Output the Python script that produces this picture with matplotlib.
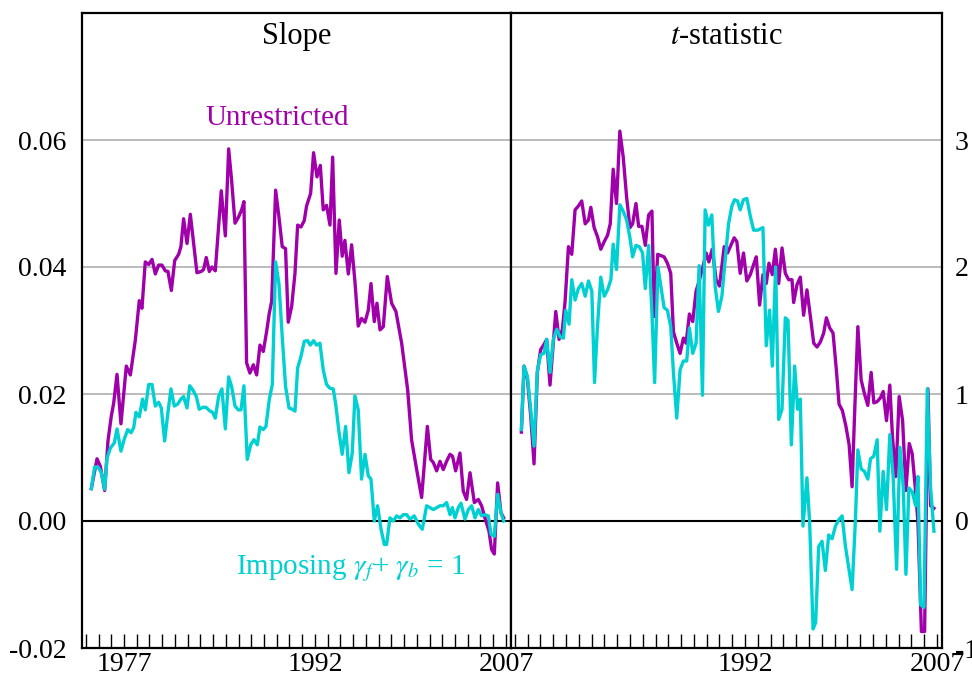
import matplotlib
matplotlib.use('Agg')
import matplotlib.pyplot as plt
from matplotlib.ticker import FixedLocator, MultipleLocator

plt.rcParams['font.family'] = ['Liberation Serif', 'DejaVu Serif']
plt.rcParams['mathtext.fontset'] = 'stix'

# Slope, unrestricted
slope_u_year = [1974.43, 1974.88, 1975.14, 1975.48, 1975.74, 1976.00, 1976.19, 1976.45, 1976.76, 1977.18,
                1977.50, 1977.89, 1978.20, 1978.41, 1978.67, 1978.94, 1979.20, 1979.46, 1979.72, 1979.98,
                1980.24, 1980.45, 1980.72, 1980.98, 1981.29, 1981.47, 1981.68, 1981.95, 1982.21, 1982.47,
                1982.73, 1983.07, 1983.25, 1983.46, 1983.70, 1983.91, 1984.17, 1984.64, 1984.96, 1985.22,
                1985.45, 1985.72, 1985.98, 1986.24, 1986.42, 1986.63, 1986.89, 1987.16, 1987.42, 1987.68,
                1987.94, 1988.20, 1988.41, 1988.60, 1988.91, 1989.17, 1989.43, 1989.69, 1989.90, 1990.17,
                1990.43, 1990.64, 1990.90, 1991.16, 1991.34, 1991.66, 1991.89, 1992.16, 1992.42, 1992.65,
                1992.91, 1993.18, 1993.39, 1993.65, 1993.91, 1994.14, 1994.35, 1994.62, 1994.88, 1995.14,
                1995.40, 1995.66, 1995.93, 1996.19, 1996.40, 1996.66, 1996.87, 1997.11, 1997.37, 1997.68,
                1998.02, 1998.36, 1998.81, 1999.28, 1999.59, 1999.99, 2000.38, 2000.83, 2001.09, 2001.30,
                2001.56, 2001.82, 2002.08, 2002.34, 2002.61, 2002.81, 2003.05, 2003.39, 2003.65, 2003.91,
                2004.18, 2004.52, 2004.83, 2005.09, 2005.35, 2005.67, 2005.88, 2006.09, 2006.35, 2006.61,
                2006.82]
slope_u = [0.0051, 0.0098, 0.0086, 0.0048, 0.0126, 0.0165, 0.0186, 0.0231, 0.0153, 0.0244,
           0.0230, 0.0285, 0.0347, 0.0335, 0.0408, 0.0404, 0.0412, 0.0389, 0.0403, 0.0403,
           0.0394, 0.0393, 0.0363, 0.0410, 0.0420, 0.0432, 0.0476, 0.0437, 0.0483, 0.0437,
           0.0391, 0.0393, 0.0396, 0.0415, 0.0393, 0.0400, 0.0394, 0.0520, 0.0449, 0.0586,
           0.0537, 0.0469, 0.0478, 0.0490, 0.0503, 0.0249, 0.0233, 0.0246, 0.0230, 0.0277,
           0.0267, 0.0298, 0.0327, 0.0346, 0.0521, 0.0479, 0.0432, 0.0429, 0.0313, 0.0338,
           0.0390, 0.0466, 0.0463, 0.0473, 0.0496, 0.0516, 0.0580, 0.0542, 0.0560, 0.0490,
           0.0497, 0.0466, 0.0573, 0.0390, 0.0474, 0.0417, 0.0442, 0.0389, 0.0435, 0.0377,
           0.0307, 0.0319, 0.0313, 0.0332, 0.0374, 0.0314, 0.0343, 0.0301, 0.0306, 0.0385,
           0.0343, 0.0330, 0.0280, 0.0207, 0.0128, 0.0081, 0.0037, 0.0149, 0.0097, 0.0092,
           0.0079, 0.0094, 0.0081, 0.0094, 0.0105, 0.0102, 0.0079, 0.0107, 0.0047, 0.0034,
           0.0076, 0.0029, 0.0034, 0.0024, 0.0005, -0.0016, -0.0045, -0.0052, 0.0060, 0.0013,
           0.0005]

# Slope, imposing gamma_f + gamma_b = 1
slope_r_year = [1974.43, 1974.69, 1974.96, 1975.22, 1975.48, 1975.66, 1975.93, 1976.24, 1976.45, 1976.76,
                1977.02, 1977.29, 1977.55, 1977.76, 1977.94, 1978.20, 1978.46, 1978.67, 1978.94, 1979.20,
                1979.46, 1979.72, 1979.93, 1980.19, 1980.45, 1980.69, 1980.95, 1981.21, 1981.47, 1981.68,
                1981.95, 1982.16, 1982.42, 1982.68, 1982.91, 1983.18, 1983.44, 1983.70, 1983.96, 1984.17,
                1984.43, 1984.69, 1984.96, 1985.22, 1985.45, 1985.72, 1985.98, 1986.19, 1986.42, 1986.68,
                1986.95, 1987.21, 1987.47, 1987.68, 1987.94, 1988.15, 1988.41, 1988.65, 1988.91, 1989.17,
                1989.43, 1989.69, 1989.96, 1990.22, 1990.43, 1990.64, 1990.90, 1991.16, 1991.42, 1991.63,
                1991.89, 1992.13, 1992.39, 1992.65, 1992.91, 1993.18, 1993.44, 1993.65, 1993.88, 1994.14,
                1994.41, 1994.67, 1994.93, 1995.14, 1995.40, 1995.66, 1995.93, 1996.19, 1996.40, 1996.66,
                1996.92, 1997.19, 1997.45, 1997.63, 1997.89, 1998.16, 1998.42, 1998.68, 1998.94, 1999.20,
                1999.46, 1999.80, 2000.12, 2000.43, 2000.77, 2001.03, 2001.30, 2001.56, 2001.82, 2002.08,
                2002.34, 2002.61, 2002.79, 2003.00, 2003.26, 2003.47, 2003.78, 2004.05, 2004.31, 2004.57,
                2004.83, 2005.09, 2005.35, 2005.62, 2005.83, 2006.09, 2006.35, 2006.61, 2006.82]
slope_r = [0.0051, 0.0085, 0.0085, 0.0076, 0.0050, 0.0099, 0.0115, 0.0123, 0.0145, 0.0110,
           0.0129, 0.0144, 0.0139, 0.0147, 0.0171, 0.0164, 0.0192, 0.0175, 0.0215, 0.0215,
           0.0181, 0.0187, 0.0178, 0.0126, 0.0171, 0.0208, 0.0181, 0.0184, 0.0192, 0.0196,
           0.0178, 0.0213, 0.0206, 0.0196, 0.0176, 0.0179, 0.0179, 0.0174, 0.0171, 0.0162,
           0.0196, 0.0208, 0.0145, 0.0227, 0.0212, 0.0181, 0.0175, 0.0175, 0.0213, 0.0097,
           0.0120, 0.0128, 0.0120, 0.0148, 0.0144, 0.0149, 0.0191, 0.0215, 0.0408, 0.0374,
           0.0290, 0.0212, 0.0178, 0.0176, 0.0173, 0.0241, 0.0259, 0.0283, 0.0284, 0.0277,
           0.0284, 0.0277, 0.0280, 0.0238, 0.0215, 0.0209, 0.0208, 0.0181, 0.0141, 0.0105,
           0.0149, 0.0076, 0.0107, 0.0197, 0.0175, 0.0066, 0.0105, 0.0071, 0.0066, 0.0000,
           0.0024, -0.0013, -0.0037, -0.0037, 0.0005, 0.0000, 0.0008, 0.0005, 0.0010, 0.0010,
           0.0003, 0.0008, -0.0005, -0.0013, 0.0024, 0.0021, 0.0018, 0.0021, 0.0024, 0.0024,
           0.0029, 0.0010, 0.0021, 0.0005, 0.0021, 0.0028, 0.0003, 0.0018, 0.0024, 0.0005,
           0.0018, 0.0008, 0.0010, 0.0008, -0.0021, -0.0024, 0.0042, 0.0013, 0.0000]

# t-statistic, unrestricted
tstat_u_year = [1974.51, 1974.72, 1974.98, 1975.24, 1975.50, 1975.76, 1976.02, 1976.28, 1976.49, 1976.75,
                1977.01, 1977.20, 1977.46, 1977.72, 1977.93, 1978.19, 1978.45, 1978.71, 1978.97, 1979.23,
                1979.50, 1979.76, 1979.94, 1980.20, 1980.46, 1980.72, 1980.99, 1981.25, 1981.46, 1981.69,
                1981.95, 1982.21, 1982.47, 1982.74, 1983.00, 1983.21, 1983.47, 1983.68, 1983.94, 1984.20,
                1984.46, 1984.72, 1984.90, 1985.17, 1985.40, 1985.67, 1985.93, 1986.19, 1986.40, 1986.66,
                1986.92, 1987.18, 1987.39, 1987.65, 1987.91, 1988.17, 1988.44, 1988.70, 1988.96, 1989.17,
                1989.43, 1989.74, 1990.00, 1990.37, 1990.63, 1990.89, 1991.15, 1991.36, 1991.62, 1991.88,
                1992.14, 1992.41, 1992.67, 1992.88, 1993.14, 1993.40, 1993.66, 1993.87, 1994.13, 1994.37,
                1994.63, 1994.89, 1995.15, 1995.41, 1995.67, 1995.80, 1996.06, 1996.32, 1996.58, 1996.84,
                1997.11, 1997.37, 1997.63, 1997.89, 1998.15, 1998.36, 1998.62, 1998.88, 1999.14, 1999.35,
                1999.61, 1999.88, 2000.14, 2000.37, 2000.55, 2000.82, 2001.08, 2001.34, 2001.60, 2001.86,
                2002.07, 2002.33, 2002.59, 2002.80, 2003.06, 2003.32, 2003.53, 2003.79, 2004.05, 2004.32,
                2004.58, 2004.84, 2005.07, 2005.34, 2005.52, 2005.79, 2006.04, 2006.30, 2006.51, 2006.77]
tstat_u = [0.70, 1.22, 1.12, 0.83, 0.45, 1.17, 1.35, 1.39, 1.43, 1.07,
           1.40, 1.65, 1.43, 1.51, 1.73, 2.16, 2.10, 2.45, 2.48, 2.52,
           2.34, 2.37, 2.47, 2.31, 2.24, 2.14, 2.20, 2.25, 2.34, 2.77,
           2.50, 3.07, 2.87, 2.55, 2.31, 2.34, 2.50, 2.32, 2.32, 2.17,
           2.41, 2.44, 1.61, 2.10, 2.09, 2.08, 2.03, 1.95, 1.49, 1.40,
           1.32, 1.44, 1.40, 1.63, 1.57, 1.81, 1.90, 2.00, 2.11, 2.04,
           2.14, 1.90, 1.85, 2.16, 2.11, 2.17, 2.23, 2.20, 1.95, 2.11,
           1.89, 1.94, 2.02, 2.08, 1.70, 1.94, 1.87, 2.03, 1.94, 2.14,
           1.87, 2.15, 1.95, 1.90, 1.90, 1.72, 1.86, 1.92, 1.62, 1.82,
           1.61, 1.40, 1.37, 1.41, 1.48, 1.60, 1.52, 1.48, 1.19, 0.92,
           0.87, 0.75, 0.60, 0.27, 0.80, 1.53, 1.11, 1.00, 0.91, 1.17,
           0.93, 0.94, 0.97, 1.02, 0.79, 1.07, 0.66, 0.35, 0.98, 0.79,
           0.24, 0.61, 0.53, 0.23, -0.01, -0.87, -0.87, 1.04, 0.12, 0.10]

# t-statistic, imposing gamma_f + gamma_b = 1
tstat_r_year = [1974.51, 1974.72, 1974.98, 1975.24, 1975.50, 1975.76, 1976.02, 1976.28, 1976.49, 1976.75,
                1977.01, 1977.28, 1977.54, 1977.80, 1977.98, 1978.24, 1978.45, 1978.71, 1978.97, 1979.23,
                1979.50, 1979.76, 1980.02, 1980.23, 1980.46, 1980.72, 1980.99, 1981.25, 1981.51, 1981.69,
                1981.95, 1982.21, 1982.47, 1982.74, 1983.00, 1983.21, 1983.47, 1983.73, 1983.99, 1984.20,
                1984.46, 1984.72, 1984.93, 1985.19, 1985.40, 1985.67, 1985.93, 1986.19, 1986.40, 1986.66,
                1986.92, 1987.18, 1987.44, 1987.65, 1987.91, 1988.17, 1988.41, 1988.67, 1988.88, 1989.14,
                1989.40, 1989.66, 1989.92, 1990.19, 1990.45, 1990.71, 1990.97, 1991.18, 1991.41, 1991.62,
                1991.88, 1992.14, 1992.41, 1992.67, 1992.98, 1993.19, 1993.40, 1993.66, 1993.92, 1994.13,
                1994.39, 1994.63, 1994.89, 1995.15, 1995.36, 1995.62, 1995.88, 1996.11, 1996.32, 1996.53,
                1996.84, 1997.05, 1997.32, 1997.52, 1997.76, 1998.02, 1998.28, 1998.54, 1998.80, 1999.07,
                1999.33, 1999.59, 1999.85, 2000.11, 2000.37, 2000.63, 2000.82, 2001.08, 2001.34, 2001.60,
                2001.81, 2002.07, 2002.33, 2002.54, 2002.80, 2003.06, 2003.32, 2003.58, 2003.85, 2004.11,
                2004.37, 2004.58, 2004.81, 2005.07, 2005.34, 2005.52, 2005.73, 2005.99, 2006.25, 2006.51,
                2006.77]
tstat_r = [0.72, 1.22, 1.14, 0.88, 0.59, 1.18, 1.31, 1.32, 1.43, 1.17,
           1.43, 1.51, 1.45, 1.44, 1.66, 1.55, 1.90, 1.74, 1.83, 1.87,
           1.77, 1.89, 1.81, 1.09, 1.53, 1.92, 1.77, 1.82, 1.90, 2.18,
           1.98, 2.49, 2.44, 2.37, 2.23, 2.08, 2.17, 2.16, 2.11, 1.83,
           2.17, 1.64, 1.09, 2.00, 1.86, 1.68, 1.66, 1.53, 1.17, 0.81,
           1.19, 1.26, 1.26, 1.52, 1.32, 1.40, 2.01, 0.99, 2.45, 2.33,
           2.41, 1.85, 1.65, 1.77, 2.06, 2.34, 2.48, 2.53, 2.52, 2.45,
           2.53, 2.54, 2.40, 2.29, 2.29, 2.30, 2.31, 1.38, 1.66, 1.22,
           2.00, 0.80, 0.88, 1.60, 1.58, 0.60, 1.22, 0.88, 0.96, -0.04,
           0.34, -0.01, -0.85, -0.80, -0.20, -0.16, -0.39, -0.11, -0.14, -0.04,
           0.01, 0.04, -0.20, -0.37, -0.54, 0.01, 0.56, 0.41, 0.39, 0.33,
           0.49, 0.51, 0.64, -0.08, 0.39, 0.09, 0.68, 0.35, -0.38, 0.58,
           0.27, -0.42, 0.26, 0.23, 0.12, 0.35, -0.66, -0.68, 1.04, 0.26,
           -0.08]

purple = '#a000aa'
cyan = '#00d0d2'
x_range = (1973.7, 2007.4)

fig = plt.figure(figsize=(9.72, 6.88), dpi=100)
ax1 = fig.add_axes([82 / 972, 40 / 688, 429 / 972, 635 / 688])
ax2 = fig.add_axes([511 / 972, 40 / 688, 431 / 972, 635 / 688])

for ax, yl, grid_vals in [(ax1, (-0.02, 0.08), [0.02, 0.04, 0.06]),
                          (ax2, (-1, 4), [1, 2, 3])]:
    ax.set_xlim(*x_range)
    ax.set_ylim(*yl)
    for g in grid_vals:
        ax.axhline(g, color='#b5b5b5', lw=1.3, zorder=1)
    ax.axhline(0, color='black', lw=1.5, zorder=1)
    for s in ax.spines.values():
        s.set_linewidth(1.6)
    ax.xaxis.set_minor_locator(MultipleLocator(1))
    ax.tick_params(axis='x', which='both', direction='in', length=10, width=1,
                   labelsize=20, pad=3, top=False)
    ax.tick_params(axis='y', length=0, labelsize=20)

# left panel: slope
ax1.plot(slope_u_year, slope_u, color=purple, lw=2.4, zorder=3)
ax1.plot(slope_r_year, slope_r, color=cyan, lw=2.4, zorder=4)
ax1.set_yticks([-0.02, 0.00, 0.02, 0.04, 0.06])
ax1.set_yticklabels(['-0.02', '0.00', '0.02', '0.04', '0.06'])
ax1.tick_params(axis='y', pad=11)
ax1.xaxis.set_major_locator(FixedLocator([1977, 1992, 2007]))
ax1.text(0.5, 0.963, 'Slope', transform=ax1.transAxes, ha='center', va='center', fontsize=22)
ax1.text(0.455, 0.835, 'Unrestricted', transform=ax1.transAxes, ha='center', va='center',
         fontsize=21, color=purple)
ax1.text(0.627, 0.125, r'Imposing $\gamma_f$+ $\gamma_b$ = 1', transform=ax1.transAxes,
         ha='center', va='center', fontsize=21, color=cyan)

# right panel: t-statistic
ax2.plot(tstat_u_year, tstat_u, color=purple, lw=2.4, zorder=3)
ax2.plot(tstat_r_year, tstat_r, color=cyan, lw=2.4, zorder=4)
ax2.yaxis.tick_right()
ax2.set_yticks([-1, 0, 1, 2, 3])
ax2.set_yticklabels(['-1', '0', '1', '2', '3'])
ax2.tick_params(axis='y', pad=9)
ax2.xaxis.set_major_locator(FixedLocator([1992, 2007]))
ax2.text(0.5, 0.963, r'$t$-statistic', transform=ax2.transAxes, ha='center', va='center', fontsize=22)

plt.savefig('out.png', dpi=100)
plt.close()
